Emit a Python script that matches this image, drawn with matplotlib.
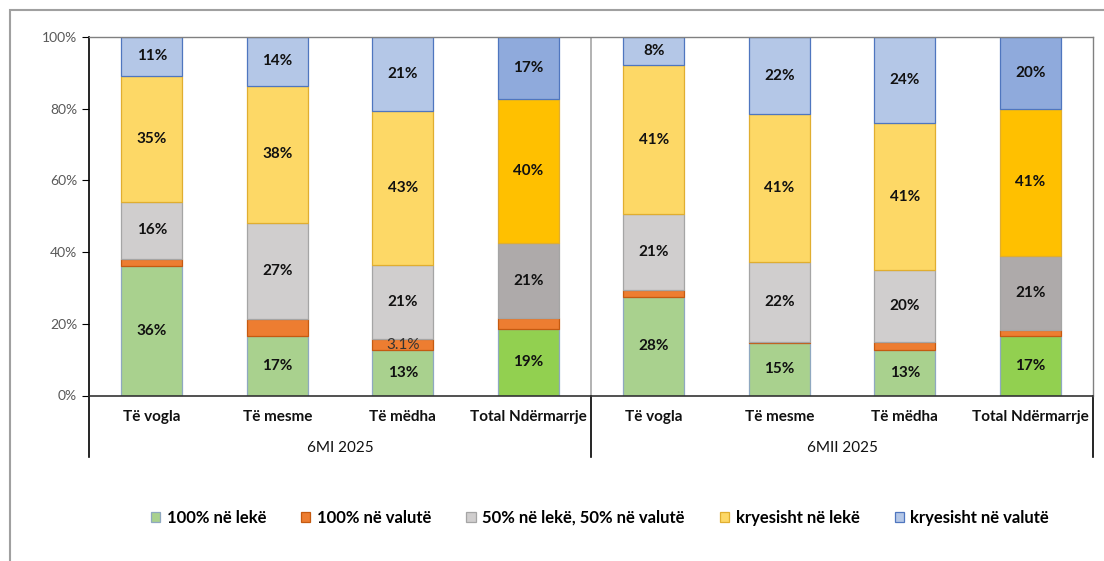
import matplotlib.pyplot as plt
from matplotlib.lines import Line2D
from matplotlib.patches import Rectangle
from matplotlib.ticker import PercentFormatter

plt.rcParams['font.family'] = ['Lato', 'DejaVu Sans']

categories = ["Të vogla", "Të mesme", "Të mëdha", "Total Ndërmarrje"] * 2
groups = ["6MI 2025", "6MII 2025"]
series_names = ["100% në lekë", "100% në valutë", "50% në lekë, 50% në valutë",
                "kryesisht në lekë", "kryesisht në valutë"]

green = [36.0, 16.6, 12.6, 18.6, 27.6, 14.7, 12.8, 16.6]
orange = [2.0, 4.8, 3.1, 2.9, 1.8, 0.3, 2.0, 1.7]
grey = [16.1, 26.8, 20.8, 21.1, 21.3, 22.3, 20.1, 20.7]
yellow = [35.1, 38.2, 42.9, 40.2, 41.4, 41.1, 41.0, 41.0]
blue = [10.8, 13.6, 20.6, 17.2, 7.9, 21.6, 24.1, 20.0]
orange_labels = ["", "", "3.1%", "", "", "", "", ""]

series = [green, orange, grey, yellow, blue]
light = ["#A9D18E", "#ED7D31", "#D0CECE", "#FDD866", "#B4C7E7"]
dark = ["#92D050", "#ED7D31", "#AEAAAA", "#FFC000", "#8FAADC"]
edges = ["#8FA8C0", "#C55A11", "#A5A5A5", "#E0AE30", "#4F76BF"]
is_total = [c.startswith("Total") for c in categories]

fig = plt.figure(figsize=(11.04, 5.61), dpi=100)
ax = fig.add_axes([89 / 1104, 1 - 395.5 / 561, 1004 / 1104, 358.5 / 561])

x = list(range(len(categories)))
bottom = [0.0] * len(categories)
for i, vals in enumerate(series):
    cols = [dark[i] if t else light[i] for t in is_total]
    bars = ax.bar(x, vals, 0.49, bottom=bottom, color=cols,
                  edgecolor=edges[i], linewidth=0.9, label=series_names[i])
    if i == 1:
        ax.bar_label(bars, labels=orange_labels, label_type="center",
                     fontsize=11, color="#333333")
    else:
        ax.bar_label(bars, labels=[f"{round(v)}%" for v in vals],
                     label_type="center", fontsize=11, fontweight="bold",
                     color="#111111")
    bottom = [b + v for b, v in zip(bottom, vals)]

ax.set_xlim(-0.5, 7.5)
ax.set_ylim(0, 100)
ax.set_yticks(range(0, 101, 20))
ax.yaxis.set_major_formatter(PercentFormatter(decimals=0))
ax.tick_params(axis="y", labelsize=10, labelcolor="#595959", length=5,
               direction="out", color="black")
ax.set_xticks([])

for side in ["top", "right"]:
    ax.spines[side].set_color("#808080")
    ax.spines[side].set_linewidth(1.0)
ax.spines["left"].set_color("black")
ax.spines["bottom"].set_color("#333333")
ax.spines["left"].set_linewidth(1.2)
ax.spines["bottom"].set_linewidth(1.2)

ax.axvline(3.5, color="#A6A6A6", linewidth=1.2)
drop = -(457 - 395.5) / 358.5
for xv in [-0.5, 3.5, 7.5]:
    ax.add_line(Line2D([xv, xv], [0, drop * 100], color="black", linewidth=1.2,
                       clip_on=False))

for xi, cat in zip(x, categories):
    ax.text(xi, -(417 - 395.5) / 358.5 * 100, cat, ha="center", va="center",
            fontsize=11, fontweight="bold", color="#111111")
for gi, g in enumerate(groups):
    ax.text(1.5 + 4 * gi, -(448 - 395.5) / 358.5 * 100, g, ha="center",
            va="center", fontsize=11, color="#111111")

fig.patches.append(Rectangle((10 / 1104, -0.1), 1.2, 1 - 10 / 561 + 0.1,
                             transform=fig.transFigure, fill=False,
                             edgecolor="#A0A0A0", linewidth=1.5))

fig.legend(loc="center", bbox_to_anchor=(600 / 1104, 1 - 518 / 561), ncol=5,
           frameon=False, handlelength=0.55, handleheight=0.55,
           handletextpad=0.4, columnspacing=2.1,
           prop={"size": 12, "weight": "bold"})

fig.savefig("out.png", dpi=100)
